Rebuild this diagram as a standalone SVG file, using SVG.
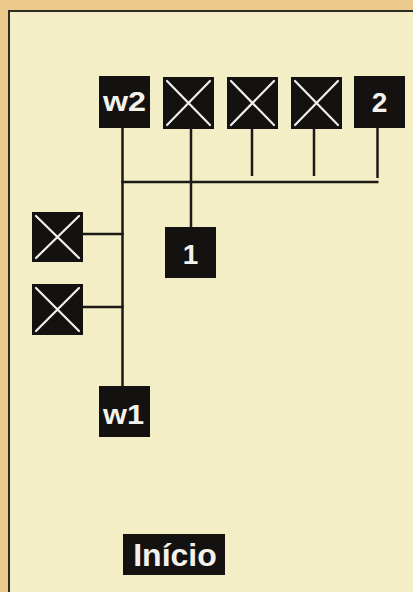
<svg xmlns="http://www.w3.org/2000/svg" width="413" height="592" viewBox="0 0 413 592">
<defs>
<style>
.box{fill:#141210}
.x{stroke:#f2f0ea;stroke-width:2.2;stroke-linecap:round}
.lbl{fill:#f4f2ec;font-family:"Liberation Sans",Arial,sans-serif;font-weight:bold;font-size:28px;text-anchor:middle}
.conn line{stroke:#1c1a16;stroke-width:2.5}
</style>
</defs>
<rect x="0" y="0" width="413" height="592" fill="#ecca8c"/>
<rect x="9" y="11" width="404" height="581" fill="#f4eec7"/>
<path d="M9 592 V11 H413" fill="none" stroke="#2e2a24" stroke-width="2"/>
<g id="connectors" class="conn">
<line x1="122.5" y1="127" x2="122.5" y2="387"/>
<line x1="191" y1="128" x2="191" y2="228"/>
<line x1="252" y1="128" x2="252" y2="176"/>
<line x1="314" y1="128" x2="314" y2="176"/>
<line x1="377.5" y1="127" x2="377.5" y2="178"/>
<line x1="121.3" y1="182" x2="378.5" y2="182"/>
<line x1="82" y1="234" x2="123.7" y2="234"/>
<line x1="82" y1="307" x2="123.7" y2="307"/>
</g>
<g id="w2"><rect class="box" x="99" y="76" width="51" height="52"/><text class="lbl" x="124.5" y="111" textLength="43" lengthAdjust="spacingAndGlyphs">w2</text></g>
<g id="x1"><rect class="box" x="163" y="77" width="51" height="52"/><path class="x" d="M167 81 L210 125 M210 81 L167 125"/></g>
<g id="x2"><rect class="box" x="227" y="77" width="51" height="52"/><path class="x" d="M231 81 L274 125 M274 81 L231 125"/></g>
<g id="x3"><rect class="box" x="291" y="77" width="51" height="52"/><path class="x" d="M295 81 L338 125 M338 81 L295 125"/></g>
<g id="n2"><rect class="box" x="354" y="76" width="51" height="52"/><text class="lbl" x="379.5" y="112">2</text></g>
<g id="n1"><rect class="box" x="165" y="227" width="51" height="51"/><text class="lbl" x="190.5" y="264">1</text></g>
<g id="xl1"><rect class="box" x="32" y="212" width="51" height="50"/><path class="x" d="M36 216 L79 258 M79 216 L36 258"/></g>
<g id="xl2"><rect class="box" x="32" y="284" width="51" height="51"/><path class="x" d="M36 288 L79 331 M79 288 L36 331"/></g>
<g id="w1"><rect class="box" x="99" y="386" width="51" height="51"/><text class="lbl" x="123.5" y="424" textLength="41" lengthAdjust="spacingAndGlyphs">w1</text></g>
<g id="inicio"><rect class="box" x="123" y="534" width="102" height="41"/><text class="lbl" x="175" y="566" style="font-size:32px">Início</text></g>
</svg>
